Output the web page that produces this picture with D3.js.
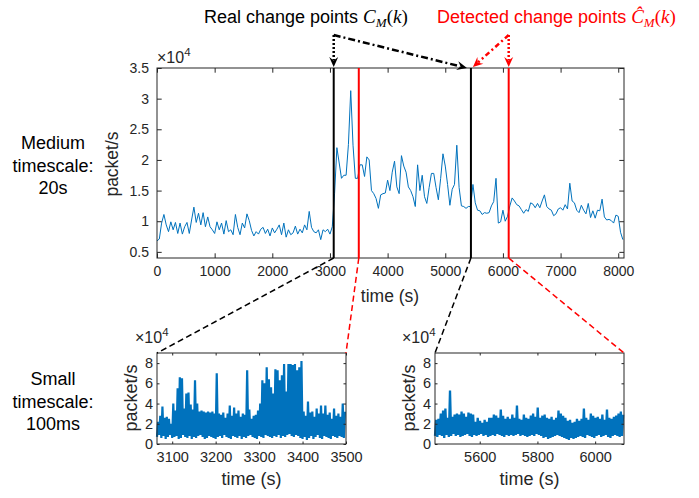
<!DOCTYPE html>
<html>
<head>
<meta charset="utf-8">
<script src="https://cdn.jsdelivr.net/npm/d3@7"></script>
<style>
body { margin: 0; background: #fff; }
text { font-family: "Liberation Sans", Arial, sans-serif; }
</style>
</head>
<body>
<script>
const W = 699, H = 498;

// change points in seconds
const realChange = [3065, 5445];
const detectedChange = [3500, 6100];

// medium timescale rate (x10^4 packet/s), one reading every 40 s from t = 0
const mediumStep = 40;
const mediumRate = [
  0.68,0.71,0.97,1.11,0.94,0.83,0.99,0.86,0.98,0.80,
  0.97,0.79,0.91,0.98,0.80,1.02,1.23,0.98,1.13,0.94,
  1.14,0.91,1.07,0.91,0.86,0.80,0.99,0.86,0.97,0.79,
  1.01,0.83,0.86,0.78,1.11,0.90,0.78,0.97,0.89,1.12,
  1.01,0.85,0.76,0.83,0.79,0.87,0.90,0.80,0.87,0.76,
  0.89,0.81,0.87,0.94,0.78,0.97,0.74,0.86,0.78,0.81,
  0.92,0.79,0.87,0.81,0.94,0.86,1.16,0.90,0.83,0.81,
  0.86,0.70,0.86,0.83,0.87,0.79,0.91,
  1.45,2.20,1.95,1.70,1.75,1.75,2.25,3.13,2.24,1.70,
  1.70,1.92,1.92,1.73,2.05,2.00,1.50,1.45,1.37,1.21,
  1.43,1.45,1.46,1.67,1.50,1.80,1.98,1.56,1.45,2.07,
  1.90,1.80,1.56,1.50,1.40,1.24,1.92,1.50,1.75,1.40,
  1.29,1.55,1.78,1.78,1.55,1.35,1.70,2.10,1.90,1.60,
  1.26,1.52,1.60,2.24,1.55,1.25,1.24,1.21,1.24,1.24,
  1.60,1.30,1.18,1.17,1.11,1.14,1.13,1.14,1.25,1.32,
  1.70,0.97,0.99,1.18,1.00,1.08,1.25,1.38,1.33,1.27,
  1.25,1.19,1.13,1.19,1.16,1.30,1.28,1.22,1.29,1.22,
  1.33,1.43,1.24,1.20,1.18,1.09,1.12,1.20,1.22,1.18,
  1.27,1.20,1.62,1.33,1.30,1.18,1.14,1.26,1.18,1.12,
  1.29,1.06,1.17,1.05,1.18,1.17,1.36,1.07,1.02,1.03,
  1.01,0.97,1.10,1.08,0.82,0.70
];
const mediumXTicks = [0,1000,2000,3000,4000,5000,6000,7000,8000];
const mediumYTicks = [0.5,1,1.5,2,2.5,3,3.5];

// small timescale (100 ms) traces, read as low/high swings per bin (x10^4 packet/s)
const leftStep = 5;
const leftHigh = [
  2.2,2.8,3.7,2.6,2.7,2.5,2.0,4.0,3.3,5.5,
  6.6,6.5,3.5,5.0,5.1,3.9,3.4,6.3,4.0,3.2,
  3.3,3.2,3.1,3.2,3.1,3.2,3.0,7.0,3.0,2.9,
  3.1,2.6,3.0,3.8,2.8,3.6,3.0,3.3,2.7,3.0,
  2.9,7.3,3.4,2.5,2.8,2.9,3.3,4.0,6.3,6.0,
  7.6,6.4,5.6,5.0,7.4,7.3,6.3,6.8,7.9,5.2,
  7.9,7.9,7.8,7.9,7.3,7.6,8.2,3.2,2.8,4.2,
  3.1,3.2,2.7,3.5,3.0,3.8,3.0,3.8,2.9,3.1,
  2.5,3.5,2.8,3.0,2.7,4.0,3.2
];
const leftLow = [
  0.7,0.9,0.6,0.8,0.5,0.7,0.9,0.6,0.7,0.8,
  0.5,0.6,0.9,0.7,0.6,0.8,0.5,0.7,0.6,0.8,
  0.9,0.7,0.5,0.6,0.8,0.7,0.6,0.5,0.7,0.8,
  0.6,0.9,0.7,0.6,0.5,0.8,0.7,0.6,0.8,0.5,
  0.7,0.6,0.8,0.9,0.7,0.6,0.5,0.8,0.7,0.6,
  0.9,0.8,0.7,0.6,0.8,0.7,0.9,0.6,0.8,0.7,
  0.9,1.0,0.8,0.7,0.9,0.8,0.6,0.5,0.7,0.4,
  0.6,0.8,0.5,0.7,0.9,0.6,0.5,0.8,0.7,0.6,
  0.5,0.8,0.7,0.6,0.8,0.7,0.6
];
const rightStep = 8;
const rightHigh = [
  2.4,2.5,3.0,3.3,3.5,2.6,5.3,2.7,2.9,3.0,
  2.9,3.2,3.0,2.7,3.1,3.0,2.9,2.2,2.6,2.3,
  2.1,2.4,2.2,2.6,2.6,2.9,2.8,2.6,3.4,2.8,
  2.5,2.7,2.5,2.9,2.6,3.8,2.5,2.4,2.9,2.6,
  2.5,2.8,3.0,2.7,3.6,2.6,2.8,2.9,2.6,2.5,
  2.7,2.4,2.6,3.3,3.0,2.8,2.6,2.3,2.4,2.1,
  2.2,2.5,2.3,2.5,3.5,2.6,2.4,3.0,2.8,2.6,
  2.7,2.5,2.9,2.4,3.4,2.6,2.5,2.7,2.8,3.0,
  3.2,2.9
];
const rightLow = [
  0.8,0.7,0.9,0.8,0.6,0.9,0.7,0.8,1.0,0.8,
  0.9,0.7,0.8,0.9,1.0,0.8,0.7,0.9,0.8,0.9,
  1.0,0.8,0.9,0.7,0.8,0.9,0.8,1.0,0.9,0.8,
  0.7,0.9,0.8,0.9,0.8,0.9,1.0,0.8,0.9,0.8,
  0.7,0.8,0.9,0.8,1.0,0.9,0.8,0.6,0.7,0.5,
  0.6,0.7,0.8,0.9,0.8,0.7,0.6,0.5,0.4,0.6,
  0.5,0.6,0.7,0.8,0.7,0.6,0.9,0.8,0.7,0.6,
  0.8,0.9,0.7,0.8,0.9,0.7,0.6,0.8,0.9,0.8,
  0.7,0.8
];
const leftXTicks = [3100,3200,3300,3400,3500];
const rightXTicks = [5600,5800,6000];
const smallYTicks = [0,2,4,6,8];

const blue = "#0072BD", red = "#FF0000", axisCol = "#262626";

const svg = d3.select("body").append("svg").attr("width", W).attr("height", H);

const xMain = d3.scaleLinear().domain([0, 8100]).range([157, 624]);
const yMain = d3.scaleLinear().domain([0.4, 3.5]).range([258, 68]);
const xLeft = d3.scaleLinear().domain([realChange[0], detectedChange[0]]).range([157, 346]);
const xRight = d3.scaleLinear().domain([realChange[1], detectedChange[1]]).range([435, 624]);
const ySmall = d3.scaleLinear().domain([0, 9]).range([444, 353]);

function drawAxes(x, y, xTicks, yTicks, tick, xPad, yPad, fs) {
  const [x0, x1] = x.range(), [y1, y0] = y.range();
  const g = svg.append("g");
  const fmt = d3.format("~g");
  g.append("g").attr("transform", `translate(0,${y1})`)
    .call(d3.axisBottom(x).tickValues(xTicks).tickSizeInner(-tick).tickSizeOuter(0).tickPadding(xPad).tickFormat(d3.format("d")));
  g.append("g").attr("transform", `translate(0,${y0})`)
    .call(d3.axisTop(x).tickValues(xTicks).tickSizeInner(-tick).tickSizeOuter(0).tickFormat(() => ""));
  g.append("g").attr("transform", `translate(${x0},0)`)
    .call(d3.axisLeft(y).tickValues(yTicks).tickSizeInner(-tick).tickSizeOuter(0).tickPadding(yPad).tickFormat(fmt));
  g.append("g").attr("transform", `translate(${x1},0)`)
    .call(d3.axisRight(y).tickValues(yTicks).tickSizeInner(-tick).tickSizeOuter(0).tickFormat(() => ""));
  g.selectAll(".domain").remove();
  g.selectAll(".tick line").attr("stroke", axisCol);
  g.selectAll(".tick text").attr("fill", axisCol).attr("font-size", fs)
    .attr("font-family", "Liberation Sans, Arial, sans-serif");
  g.append("rect").attr("x", x0).attr("y", y0).attr("width", x1 - x0).attr("height", y1 - y0)
    .attr("fill", "none").attr("stroke", axisCol).attr("stroke-width", 1);
  return g;
}

function exponent(x, y, fs) {
  const t = svg.append("text").attr("x", x).attr("y", y).attr("fill", axisCol).attr("font-size", fs);
  t.append("tspan").text("\u00d710");
  t.append("tspan").attr("font-size", fs * 0.72).attr("dy", -fs * 0.42).text("4");
}

function yLabel(x, y, fs) {
  svg.append("text").attr("transform", `translate(${x},${y}) rotate(-90)`)
    .attr("text-anchor", "middle").attr("font-size", fs).attr("fill", axisCol).text("packet/s");
}

function xLabel(x, y, fs) {
  svg.append("text").attr("x", x).attr("y", y)
    .attr("text-anchor", "middle").attr("font-size", fs).attr("fill", axisCol).text("time (s)");
}

// ---- medium timescale panel ----
svg.append("path")
  .datum(mediumRate)
  .attr("fill", "none").attr("stroke", blue).attr("stroke-width", 1)
  .attr("d", d3.line().x((d, i) => xMain(i * mediumStep)).y(d => yMain(d)));

drawAxes(xMain, yMain, mediumXTicks, mediumYTicks, 4.7, 8, 8, 14);
exponent(157, 63, 16);
yLabel(118, 164, 17.5);
xLabel(390, 302, 17.5);

svg.selectAll(".real").data(realChange).enter().append("line")
  .attr("x1", d => xMain(d)).attr("x2", d => xMain(d))
  .attr("y1", yMain.range()[0]).attr("y2", yMain.range()[1])
  .attr("stroke", "#000").attr("stroke-width", 2);
svg.selectAll(".detected").data(detectedChange).enter().append("line")
  .attr("x1", d => xMain(d)).attr("x2", d => xMain(d))
  .attr("y1", yMain.range()[0]).attr("y2", yMain.range()[1])
  .attr("stroke", red).attr("stroke-width", 2);

// ---- small timescale panels ----
function zigzag(start, step, low, high, x, width) {
  const pts = [];
  for (let i = 0; i < Math.min(low.length, high.length); i++) {
    pts.push([x(start + i * step), ySmall(low[i])]);
    pts.push([x(start + (i + 0.5) * step), ySmall(high[i])]);
  }
  svg.append("path").attr("fill", "none").attr("stroke", blue).attr("stroke-width", width)
    .attr("stroke-linejoin", "bevel")
    .attr("d", d3.line()(pts));
}
zigzag(realChange[0], leftStep, leftLow, leftHigh, xLeft, 2.2);
zigzag(realChange[1], rightStep, rightLow, rightHigh, xRight, 2.3);

drawAxes(xLeft, ySmall, leftXTicks, smallYTicks, 2.5, 8, 4, 14.5);
drawAxes(xRight, ySmall, rightXTicks, smallYTicks, 2.5, 8, 4, 14.5);
exponent(135, 343, 16);
exponent(402, 343, 16);
yLabel(137, 398, 18);
yLabel(415, 398, 18);
xLabel(xLeft(d3.mean(xLeft.domain())), 485, 18);
xLabel(xRight(d3.mean(xRight.domain())), 485, 18);

// ---- zoom connectors ----
const connectors = [
  {t: realChange[0], to: [xLeft.range()[0], ySmall.range()[1]], c: "#000"},
  {t: detectedChange[0], to: [xLeft.range()[1], ySmall.range()[1]], c: red},
  {t: realChange[1], to: [xRight.range()[0], ySmall.range()[1]], c: "#000"},
  {t: detectedChange[1], to: [xRight.range()[1], ySmall.range()[1]], c: red}
];
svg.selectAll(".conn").data(connectors).enter().append("line")
  .attr("x1", d => xMain(d.t)).attr("y1", yMain.range()[0])
  .attr("x2", d => d.to[0]).attr("y2", d => d.to[1])
  .attr("stroke", d => d.c).attr("stroke-width", 1.5).attr("stroke-dasharray", "6,3.5");

// ---- annotation arrows ----
function arrow(from, tip, color, dash) {
  const dx = tip[0] - from[0], dy = tip[1] - from[1];
  const len = Math.hypot(dx, dy), ux = dx / len, uy = dy / len, nx = -uy, ny = ux;
  const L = 10, Wd = 9;
  svg.append("line").attr("x1", from[0]).attr("y1", from[1])
    .attr("x2", tip[0] - ux * L * 0.7).attr("y2", tip[1] - uy * L * 0.7)
    .attr("stroke", color).attr("stroke-width", 2.5).attr("stroke-dasharray", dash);
  const p = [
    [tip[0], tip[1]],
    [tip[0] - ux * L + nx * Wd / 2, tip[1] - uy * L + ny * Wd / 2],
    [tip[0] - ux * L * 0.65, tip[1] - uy * L * 0.65],
    [tip[0] - ux * L - nx * Wd / 2, tip[1] - uy * L - ny * Wd / 2]
  ];
  svg.append("path").attr("d", d3.line()(p) + "Z").attr("fill", color);
}
const plotTop = yMain.range()[1];
arrow([xMain(realChange[0]), 35], [xMain(realChange[0]), plotTop - 1], "#000", "2,2");
arrow([xMain(realChange[0]), 35], [xMain(realChange[1]) - 4, plotTop], "#000", "7,3,2,3");
arrow([xMain(detectedChange[1]), 35], [xMain(detectedChange[1]), plotTop - 1], red, "2,2");
arrow([xMain(detectedChange[1]), 35], [xMain(realChange[1]) + 2, plotTop - 1], red, "5,3,2,3");

// ---- titles ----
const serif = "Liberation Serif, DejaVu Serif, serif";
function mathTitle(x, label, sym, color) {
  const t = svg.append("text").attr("x", x).attr("y", 23).attr("font-size", 18).attr("fill", color);
  t.append("tspan").text(label);
  t.append("tspan").attr("font-family", serif).attr("font-style", "italic").attr("font-size", 19).text(sym);
  t.append("tspan").attr("font-family", serif).attr("font-style", "italic").attr("font-size", 13).attr("dy", 4).text("M");
  t.append("tspan").attr("font-family", serif).attr("font-size", 19).attr("dy", -4).text("(");
  t.append("tspan").attr("font-family", serif).attr("font-style", "italic").attr("font-size", 19).text("k");
  t.append("tspan").attr("font-family", serif).attr("font-size", 19).text(")");
}
mathTitle(204, "Real change points ", "C", "#000");
mathTitle(437, "Detected change points ", "\u0108", red);

// ---- row captions ----
function caption(lines, cy) {
  const t = svg.append("text").attr("text-anchor", "middle").attr("font-size", 18).attr("fill", "#000");
  lines.forEach((s, i) => t.append("tspan").attr("x", 53).attr("y", cy + (i - 1) * 22.7 + 6.5).text(s));
}
caption(["Medium", "timescale:", "20s"], 165);
caption(["Small", "timescale:", "100ms"], 401);
</script>
</body>
</html>
